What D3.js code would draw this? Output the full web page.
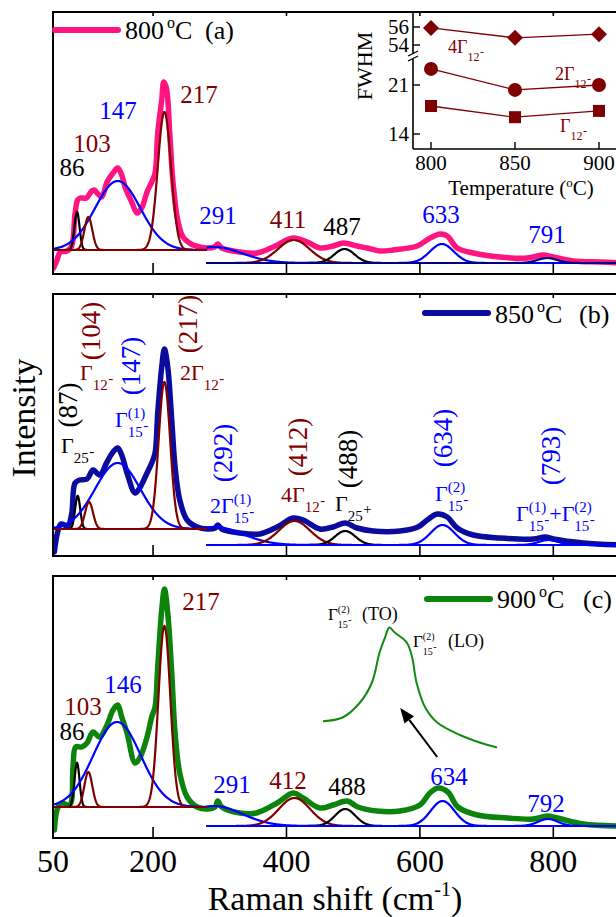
<!DOCTYPE html>
<html>
<head>
<meta charset="utf-8">
<script src="https://cdn.jsdelivr.net/npm/d3@7"></script>
<style>
  body { margin: 0; background: #fff; }
  svg { display: block; }
</style>
</head>
<body>
<svg id="chart" width="616" height="917"></svg>
<script>
// ---- data ----
const shiftTicks = [50, 200, 400, 600, 800]
const temps = ['800', '850', '900']
const tags = ['(a)', '(b)', '(c)']

// measured spectra [Raman shift, intensity (a.u.)]
const spec800 = [[51,6],[56,14],[61,22],[71,23],[78,28],[83,60],[87,74],[91,76],[100,76],[108,83],[112,84],[116,81],[123,77],[131,92],[140,101],[147,106],[153,99],[158,87],[168,72],[176,61],[183,66],[191,82],[198,92],[203,101],[207,141],[213,174],[216,192],[220,186],[225,141],[230,91],[237,54],[245,37],[260,29],[280,26],[292,27],[297,30],[303,26],[330,22],[356,21],[380,27],[410,36],[431,32],[450,26],[470,28],[485,31],[506,28],[521,26],[540,23],[560,24],[596,28],[613,35],[630,40],[641,38],[656,26],[680,21],[720,17],[761,16],[785,19],[800,17],[830,13],[870,12],[900,11]]
const spec850 = [[52,4],[57,24],[62,32],[72,30],[78,42],[83,73],[90,76],[101,77],[110,86],[120,81],[131,94],[140,104],[147,108],[153,101],[161,83],[173,63],[180,68],[191,83],[198,93],[203,103],[207,143],[213,189],[217,207],[222,189],[228,136],[233,89],[240,56],[251,36],[266,29],[281,27],[293,28],[297,31],[303,27],[330,23],[360,22],[386,29],[410,38],[425,36],[450,27],[470,29],[488,33],[506,28],[530,25],[570,25],[597,29],[611,36],[626,42],[641,39],[656,28],[680,21],[720,18],[770,17],[788,19],[800,17],[845,13],[900,11]]
const spec900 = [[52,8],[57,30],[63,35],[75,33],[80,71],[84,91],[93,91],[101,95],[110,106],[120,101],[131,113],[140,128],[147,133],[153,121],[161,105],[173,75],[180,80],[191,101],[198,121],[203,131],[207,171],[213,228],[217,249],[222,225],[228,165],[233,105],[240,65],[251,41],[266,31],[281,29],[293,31],[297,37],[303,31],[330,25],[355,25],[386,35],[410,45],[425,40],[450,30],[470,33],[491,37],[507,31],[536,27],[570,27],[600,33],[615,45],[627,50],[642,46],[657,31],[686,23],[731,20],[770,19],[791,22],[806,20],[845,14],[900,12]]

// fitted components (Gaussian): centre, height above background, FWHM
const centre800 = [86, 103, 147, 217, 291, 411, 487, 633, 791]
const centre850 = [87, 104, 147, 217, 292, 412, 488, 634, 793]
const centre900 = [86, 103, 146, 217, 291, 412, 488, 634, 792]
const height800 = [38, 33, 69, 138, 16, 23, 14, 19, 5]
const height850 = [33, 27, 66, 147, 18, 24, 14, 20, 5]
const height900 = [44, 35, 85, 181, 20, 28, 17, 25, 7]
const fwhm800 = [9, 14, 80, 23.3, 100, 55.9, 36, 42, 35]
const fwhm850 = [9, 14, 80, 20.3, 100, 54.8, 36, 42, 35]
const fwhm900 = [9, 14, 84, 21.0, 100, 55.2, 36, 42, 35]
// background under low (<280) and high (>280) fits
const baseLow = [24, 27, 31]
const baseHigh = [11, 11, 12]

// inset: FWHM vs temperature
const insetTemps = [800, 850, 900]
const fwhmG12 = [18.0, 16.4, 17.3]
const fwhm2G12 = [23.3, 20.3, 21.0]
const fwhm4G12 = [55.9, 54.8, 55.2]
const insetYTicks = [14, 21, 54, 56]

// zoomed 634 band at 900 C
const zoomShift = [560, 578, 594, 605, 612, 617, 621, 626, 637, 642, 646, 654, 665, 686, 704, 720]
const zoomCounts = [0.23, 0.26, 0.38, 0.54, 0.78, 0.90, 0.98, 0.94, 0.86, 0.74, 0.54, 0.34, 0.22, 0.12, 0.06, 0.02]

// ---- layout ----
const FONT = "'Liberation Serif'"
const svg = d3.select('#chart')
const red = '#7f0000', blue = '#0000ff', navy = '#000080', black = '#000'
const specColour = ['#ff1480', '#0b0b9e', '#0c840c']
const panelTop = [12, 294, 576]
const panelH = 262
const x = d3.scaleLinear().domain([50, 900]).range([53, 620])
const gauss = (v, c, h, w) => h * Math.exp(-4 * Math.LN2 * (v - c) * (v - c) / (w * w))

const specs = [spec800, spec850, spec900]
const centres = [centre800, centre850, centre900]
const heights = [height800, height850, height900]
const fwhms = [fwhm800, fwhm850, fwhm900]
const modeColour = [black, red, blue, red, blue, red, black, blue, blue]
const lowOrder = [0, 2, 1, 3], highOrder = [4, 5, 6, 7, 8]

const defs = svg.append('defs')

function txt(g, x0, y0, s, col, str, anchor) {
  return g.append('text').attr('x', x0).attr('y', y0).attr('fill', col)
    .style('font-family', FONT)
    .style('font-size', s + 'px').attr('text-anchor', anchor || 'start').text(str)
}

function gammaLabel(g, x0, y0, o) {
  const s = o.size, ss = o.small || Math.round(s * 0.66)
  const main = txt(g, x0, y0, s, o.color, (o.pre || '') + 'Γ')
  const w = main.node().getComputedTextLength()
  let supW = 0
  if (o.sup) {
    supW = txt(g, x0 + w, y0 - s * 0.42, ss, o.color, o.sup).node().getComputedTextLength()
  }
  const subW = txt(g, x0 + w, y0 + s * 0.45, ss, o.color, o.sub).node().getComputedTextLength()
  const sgW = txt(g, x0 + w + subW + 0.5, y0 + s * 0.45 - ss * 0.45, ss, o.color, o.sign).node().getComputedTextLength()
  return x0 + w + Math.max(supW, subW + sgW + 0.5)
}

function legend(k, lx, ly, tx, ty, tagX) {
  svg.append('line').attr('x1', lx).attr('x2', lx + 63).attr('y1', ly).attr('y2', ly)
    .attr('stroke', specColour[k]).attr('stroke-width', 6).attr('stroke-linecap', 'round')
  const t = txt(svg, tx, ty, 26, black, temps[k])
  t.append('tspan').attr('dx', 3).attr('dy', -11).style('font-size', '16px').text('o')
  t.append('tspan').attr('dy', 11).text('C')
  txt(svg, tagX, ty, 26, black, tags[k])
}

panelTop.forEach((top, k) => {
  const y = d3.scaleLinear().domain([0, panelH]).range([top + panelH, top])
  const line = d3.line().x(d => x(d[0])).y(d => y(d[1]))
  defs.append('clipPath').attr('id', 'clip' + k).append('rect')
    .attr('x', 53).attr('y', top).attr('width', 567).attr('height', panelH)
  const g = svg.append('g').attr('clip-path', `url(#clip${k})`)

  g.append('path').datum(specs[k])
    .attr('d', line.curve(d3.curveCatmullRom.alpha(0.5)))
    .attr('fill', 'none').attr('stroke', specColour[k]).attr('stroke-width', 5.5)
    .attr('stroke-linejoin', 'round').attr('stroke-linecap', 'round')

  const comp = d3.line().x(d => x(d[0])).y(d => y(d[1]))
  const drawComp = (i, from, to, base) => {
    const pts = d3.range(from, to + 0.01, 0.5).map(v => [v, base + gauss(v, centres[k][i], heights[k][i], fwhms[k][i])])
    g.append('path').datum(pts).attr('d', comp)
      .attr('fill', 'none').attr('stroke', (k === 0 && i === 8) ? navy : modeColour[i])
      .attr('stroke-width', 2.2)
  }
  lowOrder.forEach(i => drawComp(i, 50, 280, baseLow[k]))
  highOrder.forEach(i => drawComp(i, 280, 900, baseHigh[k]))

  // frame and ticks
  svg.append('rect').attr('x', 53).attr('y', top).attr('width', 567).attr('height', panelH)
    .attr('fill', 'none').attr('stroke', black).attr('stroke-width', 2)
  shiftTicks.slice(1).forEach(t => {
    svg.append('line').attr('x1', x(t)).attr('x2', x(t)).attr('y1', top + panelH).attr('y2', top + panelH - 11)
      .attr('stroke', black).attr('stroke-width', 1.6)
    svg.append('line').attr('x1', x(t)).attr('x2', x(t)).attr('y1', top).attr('y2', top + 4)
      .attr('stroke', black).attr('stroke-width', 1.6)
  })
})

// bottom axis labels
shiftTicks.forEach(t => txt(svg, x(t), 872, 32, black, t, 'middle'))
const xt = txt(svg, 335, 910, 34, black, 'Raman shift (cm', 'middle')
xt.append('tspan').attr('dy', -14).style('font-size', '20px').text('-1')
xt.append('tspan').attr('dy', 14).text(')')
svg.append('text').attr('transform', 'translate(35,418) rotate(-90)').attr('text-anchor', 'middle')
  .style('font-family', FONT).style('font-size', '34px').text('Intensity')

// legends
legend(0, 55, 30, 125, 39, 205)
legend(1, 425, 313, 495, 323, 579)
legend(2, 427, 599, 497, 608, 583)

// panel (a) and (c) peak labels
const labA = [[72,176],[92,152],[118,119],[199,103],[218,224],[288,228],[342,235],[441,223],[547,243]]
const labC = [[72,740],[83,715],[123,693],[201,610],[232,793],[288,789],[347,795],[449,785],[546,812]]
labA.forEach((p, i) => txt(svg, p[0], p[1], 25, modeColour[i], centre800[i], 'middle'))
labC.forEach((p, i) => txt(svg, p[0], p[1], 25, modeColour[i], centre900[i], 'middle'))

// panel (b) rotated positions + mode assignments
const rotB = [[77,405],[100,331],[140,366],[197,324],[232,453],[307,447],[357,459],[452,438],[560,456]]
rotB.forEach((p, i) => {
  svg.append('text').attr('transform', `translate(${p[0]},${p[1]}) rotate(-90)`)
    .style('font-family', FONT)
    .attr('text-anchor', 'middle').attr('fill', modeColour[i]).style('font-size', '27px')
    .text(`(${centre850[i]})`)
})
const gs = 22
gammaLabel(svg, 61, 453, {size: gs, color: black, sub: '25', sign: '-'})
gammaLabel(svg, 80, 380, {size: gs, color: red, sub: '12', sign: '-'})
gammaLabel(svg, 115, 427, {size: gs, color: blue, sup: '(1)', sub: '15', sign: '-'})
gammaLabel(svg, 180, 380, {size: gs, color: red, pre: '2', sub: '12', sign: '-'})
gammaLabel(svg, 210, 513, {size: gs, color: blue, pre: '2', sup: '(1)', sub: '15', sign: '-'})
gammaLabel(svg, 281, 502, {size: gs, color: red, pre: '4', sub: '12', sign: '-'})
gammaLabel(svg, 335, 511, {size: gs, color: black, sub: '25', sign: '+'})
gammaLabel(svg, 435, 501, {size: gs, color: blue, sup: '(2)', sub: '15', sign: '-'})
let cx = gammaLabel(svg, 516, 521, {size: gs, color: blue, sup: '(1)', sub: '15', sign: '-'})
const plus = txt(svg, cx, 521, gs, blue, '+')
cx += plus.node().getComputedTextLength()
gammaLabel(svg, cx, 521, {size: gs, color: blue, sup: '(2)', sub: '15', sign: '-'})

// ---- inset in (a): FWHM vs temperature ----
const ix = d3.scaleLinear().domain([800, 900]).range([431, 599])
const iy = d3.scaleLinear().domain([14, 25, 52.67, 56]).range([134, 57, 57, 27])
const inset = svg.append('g')
inset.append('line').attr('x1', 413).attr('x2', 413).attr('y1', 12).attr('y2', 149).attr('stroke', black).attr('stroke-width', 1.6)
inset.append('line').attr('x1', 413).attr('x2', 620).attr('y1', 149).attr('y2', 149).attr('stroke', black).attr('stroke-width', 1.6)
inset.append('rect').attr('x', 408).attr('y', 54).attr('width', 10).attr('height', 5).attr('fill', '#fff')
inset.append('line').attr('x1', 408).attr('x2', 418).attr('y1', 56).attr('y2', 51).attr('stroke', black).attr('stroke-width', 1.3)
inset.append('line').attr('x1', 408).attr('x2', 418).attr('y1', 61).attr('y2', 56).attr('stroke', black).attr('stroke-width', 1.3)
insetYTicks.forEach(t => {
  inset.append('line').attr('x1', 413).attr('x2', 420).attr('y1', iy(t)).attr('y2', iy(t)).attr('stroke', black).attr('stroke-width', 1.4)
  txt(inset, 409, iy(t) + 7, 21, black, t, 'end')
})
insetTemps.forEach(t => {
  inset.append('line').attr('x1', ix(t)).attr('x2', ix(t)).attr('y1', 149).attr('y2', 142).attr('stroke', black).attr('stroke-width', 1.4)
  txt(inset, ix(t), 170, 21, black, t, 'middle')
})
const tt = txt(inset, 521, 195, 21, black, 'Temperature (', 'middle')
tt.append('tspan').attr('dy', -8).style('font-size', '13px').text('o')
tt.append('tspan').attr('dy', 8).text('C)')
inset.append('text').attr('transform', 'translate(372,66) rotate(-90)').attr('text-anchor', 'middle')
  .style('font-family', FONT).style('font-size', '22px').text('FWHM')

const iline = d3.line().x((d, i) => ix(insetTemps[i])).y(d => iy(d))
;[fwhmG12, fwhm2G12, fwhm4G12].forEach(s => {
  inset.append('path').datum(s).attr('d', iline).attr('fill', 'none').attr('stroke', red).attr('stroke-width', 1.3)
})
inset.selectAll('rect.sq').data(fwhmG12).enter().append('rect').attr('class', 'sq')
  .attr('x', (d, i) => ix(insetTemps[i]) - 6).attr('y', d => iy(d) - 6).attr('width', 12).attr('height', 12).attr('fill', red)
inset.selectAll('circle.ci').data(fwhm2G12).enter().append('circle').attr('class', 'ci')
  .attr('cx', (d, i) => ix(insetTemps[i])).attr('cy', d => iy(d)).attr('r', 7).attr('fill', red)
inset.selectAll('path.di').data(fwhm4G12).enter().append('path').attr('class', 'di')
  .attr('d', (d, i) => { const a = ix(insetTemps[i]), b = iy(d); return `M${a},${b - 8}L${a + 8},${b}L${a},${b + 8}L${a - 8},${b}Z` })
  .attr('fill', red)
gammaLabel(inset, 448, 53, {size: 18, small: 12, color: red, pre: '4', sub: '12', sign: '-'})
gammaLabel(inset, 555, 80, {size: 18, small: 12, color: red, pre: '2', sub: '12', sign: '-'})
gammaLabel(inset, 560, 132, {size: 18, small: 12, color: red, sub: '12', sign: '-'})

// ---- inset in (c): zoom of the 634 band ----
const zx = d3.scaleLinear().domain([560, 720]).range([323, 497])
const zy = d3.scaleLinear().domain([0, 1]).range([750, 625])
svg.append('path').datum(zoomShift.map((s, i) => [s, zoomCounts[i]]))
  .attr('d', d3.line().x(d => zx(d[0])).y(d => zy(d[1])).curve(d3.curveCatmullRom))
  .attr('fill', 'none').attr('stroke', '#138a13').attr('stroke-width', 2)
gammaLabel(svg, 328, 620, {size: 17, small: 10, color: black, sup: '(2)', sub: '15', sign: '-'})
txt(svg, 362, 620, 18, black, '(TO)')
gammaLabel(svg, 413, 647, {size: 17, small: 10, color: black, sup: '(2)', sub: '15', sign: '-'})
txt(svg, 448, 647, 18, black, '(LO)')

// arrow
const yC = d3.scaleLinear().domain([0, panelH]).range([panelTop[2] + panelH, panelTop[2]])
const a0 = [x(626), yC(81)], a1 = [x(570.5), yC(130)]
const ang = Math.atan2(a1[1] - a0[1], a1[0] - a0[0])
const hl = 15, hw = 6
const bx = a1[0] - hl * Math.cos(ang), by = a1[1] - hl * Math.sin(ang)
svg.append('line').attr('x1', a0[0]).attr('y1', a0[1]).attr('x2', bx).attr('y2', by)
  .attr('stroke', black).attr('stroke-width', 2)
svg.append('path').attr('d', `M${a1[0]},${a1[1]}L${bx + hw * Math.sin(ang)},${by - hw * Math.cos(ang)}L${bx - hw * Math.sin(ang)},${by + hw * Math.cos(ang)}Z`)
  .attr('fill', black)
</script>
</body>
</html>
